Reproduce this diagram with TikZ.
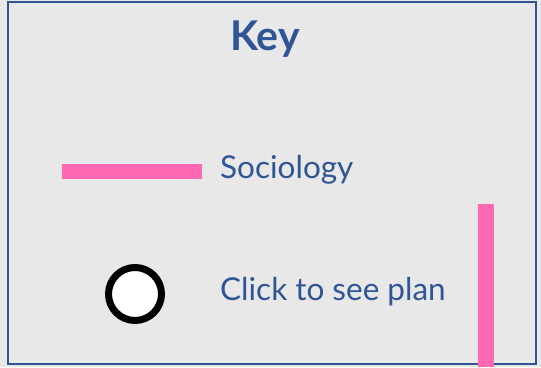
\documentclass[tikz,border=0pt]{standalone}
\usepackage{fontspec}
\setmainfont{Lato}
\definecolor{keyblue}{HTML}{2F5597}
\definecolor{keygrey}{HTML}{E8E8E8}
\definecolor{socpink}{HTML}{FF69B4}
\tikzset{
  keytext/.style={text=keyblue, inner sep=0pt, anchor=base west, font=\fontsize{31.5}{34}\selectfont},
  pinkbar/.style={draw=socpink, line width=15pt},
  planmark/.style={circle, draw=black, fill=white, line width=7pt, minimum size=53pt, inner sep=0pt}
}
\begin{document}
\begin{tikzpicture}[x=1pt,y=-1pt]
  \fill[keygrey] (0,0) rectangle (541,367);
  \useasboundingbox (0,0) rectangle (541,367);
  \draw[keyblue, line width=2.5pt] (8,2) rectangle (536,364);
  \node[text=keyblue, inner sep=0pt, anchor=base, font=\bfseries\fontsize{41}{44}\selectfont] (title) at (265,50) {Key};
  % sociology
  \coordinate (socA) at (62,171);
  \coordinate (socB) at (202,171);
  \draw[pinkbar] (socA) -- (socB);
  \node[keytext] (soclabel) at (220,178) {Sociology};
  % plan marker
  \node[planmark] (plan) at (135,294) {};
  \node[keytext] (planlabel) at (220,300) {Click to see plan};
  % bar on the right
  \coordinate (barA) at (486,204);
  \coordinate (barB) at (486,367);
  \draw[pinkbar, line width=16pt] (barA) -- (barB);
\end{tikzpicture}
\end{document}
